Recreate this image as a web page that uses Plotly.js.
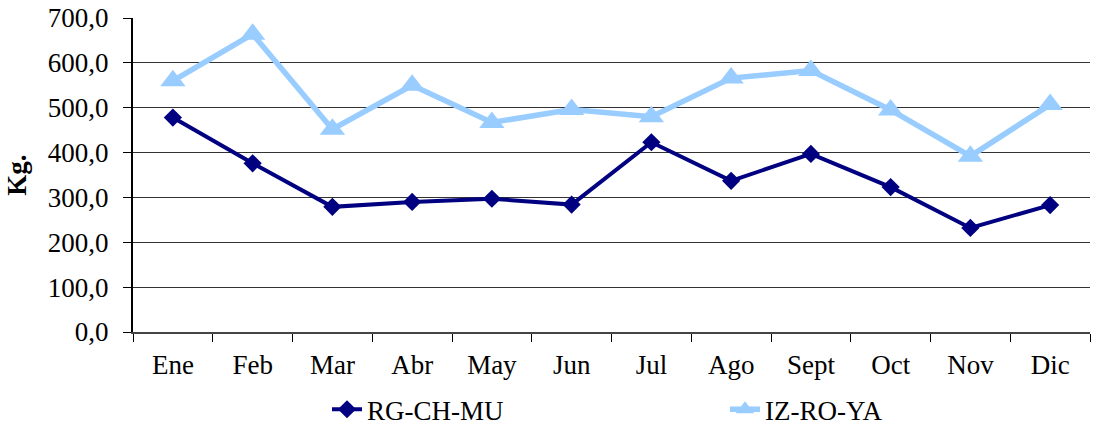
<!DOCTYPE html>
<html>
<head>
<meta charset="utf-8">
<script src="https://cdn.plot.ly/plotly-3.0.1.min.js"></script>
<style>html,body{margin:0;padding:0;background:#fff;}#chart{width:1102px;height:429px;}</style>
</head>
<body>
<div id="chart"></div>
<script>
const months = ["Ene","Feb","Mar","Abr","May","Jun","Jul","Ago","Sept","Oct","Nov","Dic"];
const rgChMu = [478, 376, 279, 290, 297, 284, 423, 337, 397, 323, 232, 283];
const izRoYa = [560, 664, 452, 550, 467, 496, 480, 566, 583, 495, 392, 507];
const seriesNames = ["RG-CH-MU", "IZ-RO-YA"];
const yTicks = [0, 100, 200, 300, 400, 500, 600, 700];

function f(size) {
  return {family: "Liberation Serif, Times New Roman, serif", size: size || 27, color: "#000"};
}

const traces = [
  {x: months, y: rgChMu, name: seriesNames[0], type: "scatter", mode: "lines+markers", legend: "legend",
   line: {color: "#000080", width: 4}, marker: {symbol: "diamond", size: 14, color: "#000080"}},
  {x: months, y: izRoYa, name: seriesNames[1], type: "scatter", mode: "lines+markers", legend: "legend2",
   line: {color: "#99CCFF", width: 5.5}, marker: {symbol: "triangle-up", size: 22, color: "#99CCFF"}}
];

function legendAt(px) {
  return {orientation: "h", xref: "container", yref: "container", xanchor: "left", yanchor: "middle",
          x: px / 1102, y: 0.045, font: f(), bgcolor: "rgba(0,0,0,0)", itemwidth: 30};
}

const layout = {
  width: 1102, height: 429,
  margin: {l: 133, r: 12, t: 18, b: 97, autoexpand: false},
  paper_bgcolor: "#fff", plot_bgcolor: "#fff",
  font: f(),
  separators: ", ",
  showlegend: true,
  legend: legendAt(327),
  legend2: legendAt(725),
  xaxis: {type: "category", tickmode: "array", tickvals: months, ticktext: months,
          tickson: "boundaries", ticks: "outside", ticklen: 8, tickwidth: 1, tickcolor: "#000",
          showline: true, linecolor: "#444", linewidth: 2, showgrid: false, zeroline: false,
          tickfont: f(), ticklabelstandoff: 8, range: [-0.5, 11.5], fixedrange: true},
  yaxis: {range: [0, 700], tickmode: "array", tickvals: yTicks, tickformat: ".1f",
          ticks: "outside", ticklen: 8, tickwidth: 1, tickcolor: "#000",
          showline: true, linecolor: "#000", linewidth: 2, showgrid: true, gridcolor: "#333",
          gridwidth: 1, zeroline: false, tickfont: f(), ticklabelstandoff: 9,
          title: {text: "<b>Kg.</b>", font: f(), standoff: 13}}
};

Plotly.newPlot("chart", traces, layout, {displayModeBar: false, staticPlot: true});
</script>
</body>
</html>
